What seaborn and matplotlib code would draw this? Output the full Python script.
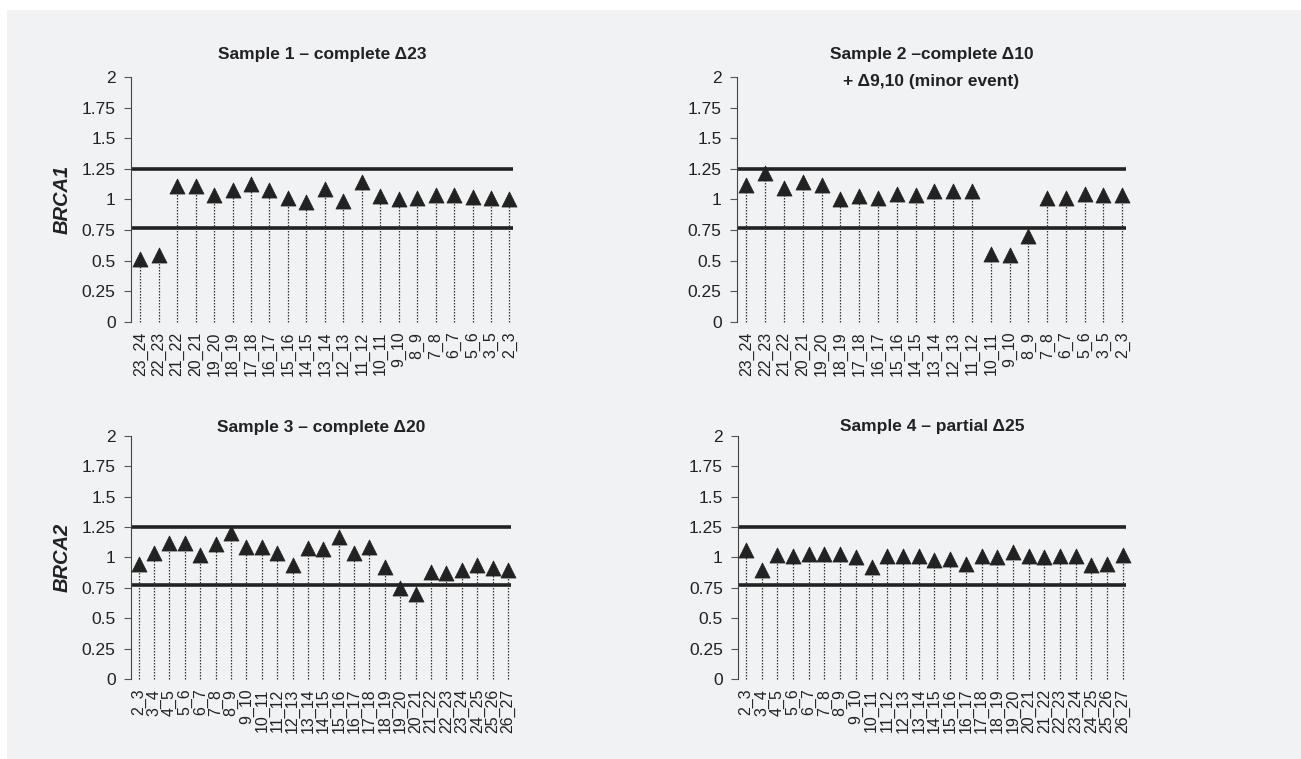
import pandas as pd
import matplotlib.pyplot as plt
import seaborn as sns
from matplotlib.patches import Rectangle

# exon junction labels
brca1_labels = ['23_24', '22_23', '21_22', '20_21', '19_20', '18_19', '17_18',
                '16_17', '15_16', '14_15', '13_14', '12_13', '11_12', '10_11',
                '9_10', '8_9', '7_8', '6_7', '5_6', '3_5', '2_3']
brca2_labels = ['2_3', '3_4', '4_5', '5_6', '6_7', '7_8', '8_9', '9_10', '10_11',
                '11_12', '12_13', '13_14', '14_15', '15_16', '16_17', '17_18',
                '18_19', '19_20', '20_21', '21_22', '22_23', '23_24', '24_25',
                '25_26', '26_27']

# relative expression ratios
sample1 = [0.51, 0.55, 1.11, 1.11, 1.04, 1.075, 1.125, 1.075, 1.015, 0.98, 1.085,
           0.99, 1.145, 1.025, 1.0, 1.01, 1.04, 1.04, 1.02, 1.01, 1.0]
sample2 = [1.115, 1.22, 1.09, 1.14, 1.115, 1.0, 1.025, 1.01, 1.048, 1.037, 1.07,
           1.07, 1.07, 0.558, 0.544, 0.702, 1.01, 1.01, 1.048, 1.04, 1.04]
sample3 = [0.95, 1.035, 1.12, 1.12, 1.02, 1.115, 1.205, 1.09, 1.085, 1.04, 0.935,
           1.08, 1.07, 1.17, 1.04, 1.09, 0.925, 0.745, 0.70, 0.88, 0.87, 0.90,
           0.935, 0.91, 0.90]
sample4 = [1.06, 0.895, 1.018, 1.012, 1.03, 1.025, 1.025, 1.004, 0.922, 1.015,
           1.015, 1.015, 0.977, 0.99, 0.946, 1.015, 1.0, 1.045, 1.01, 1.0, 1.015,
           1.01, 0.935, 0.949, 1.02]

titles = [['Sample 1 \u2013 complete \u039423'],
          ['Sample 2 \u2013complete \u039410', '+ \u03949,10 (minor event)'],
          ['Sample 3 \u2013 complete \u039420'],
          ['Sample 4 \u2013 partial \u039425']]
# title line centres, in axes fraction
title_y = [[1.09], [1.09, 0.98], [1.035], [1.04]]

upper_cut = 1.25
lower_cut = 0.77

sns.set_style('white')
plt.rcParams['font.family'] = ['Liberation Sans', 'DejaVu Sans']

ink = '#222222'
bg = '#f1f2f4'

fig = plt.figure(figsize=(13.01, 7.59), dpi=100)
fig.patch.set_facecolor('white')
fig.patches.append(Rectangle((7 / 1301, 0), 1, (759 - 10) / 759,
                             transform=fig.transFigure, facecolor=bg,
                             edgecolor='none', zorder=-10))

boxes = [
    [0.1007, 0.5758, 0.2937, 0.3228],
    [0.5665, 0.5758, 0.2990, 0.3228],
    [0.1007, 0.1054, 0.2921, 0.3202],
    [0.5673, 0.1054, 0.2982, 0.3202],
]
panels = [(sample1, brca1_labels), (sample2, brca1_labels),
          (sample3, brca2_labels), (sample4, brca2_labels)]

for i, ((vals, labels), box) in enumerate(zip(panels, boxes)):
    ax = fig.add_axes(box)
    ax.set_facecolor('none')
    df = pd.DataFrame({'pos': range(len(labels)), 'ratio': vals})

    ax.axhline(upper_cut, color=ink, lw=2.6, zorder=1)
    ax.axhline(lower_cut, color=ink, lw=2.6, zorder=1)
    ax.vlines(df['pos'], 0, df['ratio'], color='#333333', lw=0.9,
              linestyles=(0, (1.2, 1.2)), zorder=2)
    sns.scatterplot(data=df, x='pos', y='ratio', marker='^', s=118,
                    color=ink, edgecolor=ink, linewidth=0.5, ax=ax, zorder=3)
    for coll in ax.collections:
        coll.set_clip_on(False)

    ax.set_xlim(-0.5, len(labels) - 0.8)
    ax.set_ylim(0, 2)
    ax.set_yticks([0, 0.25, 0.5, 0.75, 1, 1.25, 1.5, 1.75, 2])
    ax.set_yticklabels(['0', '0.25', '0.5', '0.75', '1', '1.25', '1.5', '1.75', '2'])
    ax.set_xticks(df['pos'])
    ax.set_xticklabels(labels, rotation=90)
    ax.tick_params(axis='y', length=5, width=0.8, color='#555555', pad=6,
                   labelsize=12.5, labelcolor=ink, direction='out', left=True)
    ax.tick_params(axis='x', length=0, pad=7, labelsize=11.5, labelcolor=ink)

    for s in ['top', 'right', 'bottom']:
        ax.spines[s].set_visible(False)
    ax.spines['left'].set_color('#444444')
    ax.spines['left'].set_linewidth(0.8)

    ax.set_xlabel('')
    ax.set_ylabel('')
    if i == 0:
        ax.set_ylabel('BRCA1', fontsize=14.5, fontweight='bold', style='italic',
                      color=ink, labelpad=7)
    if i == 2:
        ax.set_ylabel('BRCA2', fontsize=14.5, fontweight='bold', style='italic',
                      color=ink, labelpad=7)

    for line, ty in zip(titles[i], title_y[i]):
        ax.text(0.5, ty, line, transform=ax.transAxes, ha='center', va='center',
                fontsize=12.5, fontweight='bold', color=ink)

fig.savefig('out.png', dpi=100, facecolor=fig.get_facecolor())
